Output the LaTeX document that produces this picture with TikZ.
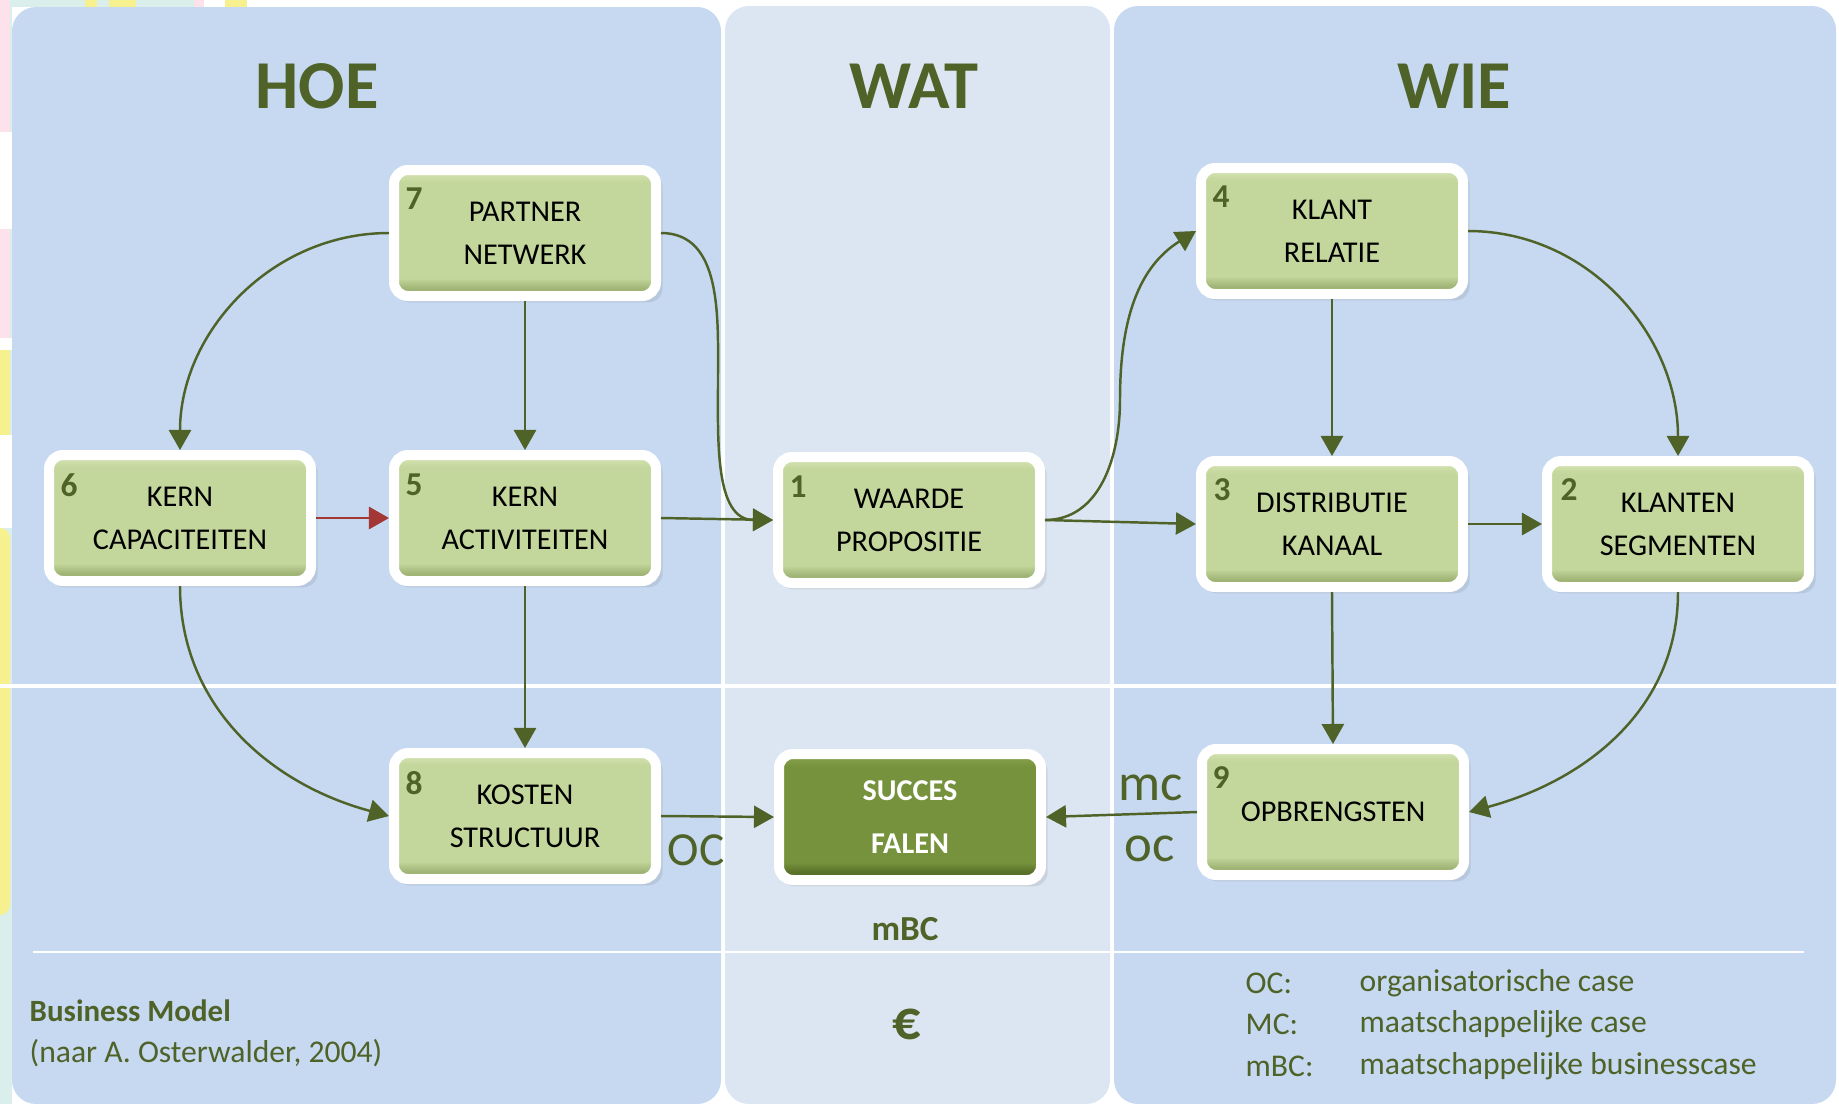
\documentclass[tikz,border=0pt]{standalone}
\usepackage{fontspec}
\setmainfont{Carlito}
\usepackage{tikz}
\usetikzlibrary{arrows.meta,shadows}
\usepackage{xcolor}
\definecolor{bmolive}{RGB}{79,98,40}
\definecolor{bmpanel}{RGB}{198,217,241}
\definecolor{bmpanelmid}{RGB}{220,230,242}
\definecolor{bmgreen}{RGB}{195,214,155}
\definecolor{bmgreenlight}{RGB}{212,227,178}
\definecolor{bmgreendark}{RGB}{160,180,118}
\definecolor{bmsucces}{RGB}{118,146,60}
\definecolor{bmsucceslight}{RGB}{134,162,76}
\definecolor{bmsuccesdark}{RGB}{88,112,40}
\definecolor{bmred}{RGB}{163,55,53}
\definecolor{bmteal}{RGB}{218,238,236}
\definecolor{bmpink}{RGB}{253,226,236}
\definecolor{bmyellow}{RGB}{246,241,142}
\pgfdeclareverticalshading{bmbevel}{100bp}{color(0bp)=(bmgreendark); color(25bp)=(bmgreendark); color(28bp)=(bmgreendark); color(32bp)=(bmgreen); color(70bp)=(bmgreen); color(74bp)=(bmgreenlight); color(100bp)=(bmgreenlight)}
\pgfdeclareverticalshading{bmbevelsucces}{100bp}{color(0bp)=(bmsuccesdark); color(25bp)=(bmsuccesdark); color(28bp)=(bmsuccesdark); color(32bp)=(bmsucces); color(70bp)=(bmsucces); color(74bp)=(bmsucceslight); color(100bp)=(bmsucceslight)}
\tikzstyle{block} = [rounded corners=1.4mm, draw=white, line width=1mm, shading=bmbevel, minimum width=26.2mm, minimum height=12.6mm, align=center, inner sep=0pt, font=\fontsize{8.6}{12.2}\selectfont, drop shadow={opacity=0.12, shadow xshift=0.4mm, shadow yshift=-0.5mm, shadow scale=1.02, fill=black!70}]
\tikzstyle{num} = [font=\fontsize{9.5}{11}\selectfont\bfseries, text=bmolive, inner sep=0pt]
\tikzstyle{title} = [font=\fontsize{19.5}{24}\selectfont\bfseries, text=bmolive]
\tikzstyle{caselabel} = [font=\fontsize{13.5}{16}\selectfont, text=bmolive, inner sep=0pt]
\tikzstyle{legend} = [font=\fontsize{9}{11}\selectfont, text=bmolive, inner sep=0pt, anchor=west]
\tikzstyle{link} = [line width=0.7pt,->,>={Triangle[length=5.7pt,width=6.3pt]},color=bmolive]

\begin{document}
\begin{tikzpicture}[x=0.1mm,y=-0.1mm]
\useasboundingbox (0,0) rectangle (1839,1104);

% left edge remnants
\fill[bmteal] (0,0) rectangle (12,1104);
\fill[bmteal] (0,0) rectangle (200,7);
\fill[bmyellow] (85,0) rectangle (97,7);
\fill[bmyellow] (109,0) rectangle (136,7);
\fill[bmpink] (194,0) rectangle (204,7);
\fill[bmyellow] (225,0) rectangle (247,7);
\fill[bmpink] (0,0) rectangle (10,132);
\fill[white] (0,132) rectangle (12,229);
\fill[bmpink] (0,229) rectangle (10,338);
\fill[white] (0,338) rectangle (12,350);
\fill[bmyellow] (0,350) rectangle (10,435);
\fill[white] (0,435) rectangle (12,528);
\fill[bmyellow, rounded corners=1mm] (-20,528) rectangle (10,915);

% Panels
\fill[bmpanel, rounded corners=2.4mm] (12,7) rectangle (721,1104);
\fill[bmpanelmid, rounded corners=2.4mm] (725,6) rectangle (1110,1104);
\fill[bmpanel, rounded corners=2.4mm] (1114,6) rectangle (1836,1104);
\draw[white, line width=0.35mm] (0,686) -- (1839,686);
\draw[white, line width=0.25mm] (33,952) -- (1804,952);

% Titles
\node[title] (hoe) at (317,86) {HOE};
\node[title] (wat) at (914,86) {WAT};
\node[title] (wie) at (1454,86) {WIE};

% Blocks
\node[block] (n7) at (525,233) {PARTNER\\NETWERK};
\node[block] (n6) at (180,518) {KERN\\CAPACITEITEN};
\node[block] (n5) at (525,518) {KERN\\ACTIVITEITEN};
\node[block] (n1) at (909,520) {WAARDE\\PROPOSITIE};
\node[block] (n4) at (1332,231) {KLANT\\RELATIE};
\node[block] (n3) at (1332,524) {DISTRIBUTIE\\KANAAL};
\node[block] (n2) at (1678,524) {KLANTEN\\SEGMENTEN};
\node[block] (n8) at (525,816) {KOSTEN\\STRUCTUUR};
\node[block, shading=bmbevelsucces, text=white, font=\fontsize{8.6}{15}\selectfont\bfseries] (succ) at (910,817) {SUCCES\\FALEN};
\node[block] (n9) at (1333,812) {OPBRENGSTEN};

% Numbers
\node[num] (n7num) at (414,199) {7};
\node[num] (n6num) at (69,485) {6};
\node[num] (n5num) at (414,485) {5};
\node[num] (n1num) at (798,487) {1};
\node[num] (n4num) at (1221,197) {4};
\node[num] (n3num) at (1222,490) {3};
\node[num] (n2num) at (1569,490) {2};
\node[num] (n8num) at (414,783) {8};
\node[num] (n9num) at (1221,778) {9};

% bend points of the two S-curves
\coordinate (bendhoe) at (718,380);
\coordinate (bendwie) at (1120,400);

% Connectors
\draw[link] (n7.west) to[out=180,in=90] (n6.north);
\draw[link] (n7.south) -- (n5.north);
\draw[link] (n7.east) to[out=0,in=90] (bendhoe) to[out=-90,in=180] (n1.west);
\draw[link, color=bmred] (n6.east) -- (n5.west);
\draw[link] (n5.east) -- (n1.west);
\draw[link] (n5.south) -- (n8.north);
\draw[link] (n6.south) to[out=-90,in=165] (n8.west);
\draw[link] (n1.east) to[out=0,in=-90] (bendwie) to[out=90,in=212] (n4.west);
\draw[link] (n1.east) -- (n3.west);
\draw[link] (n4.south) -- (n3.north);
\draw[link] (n4.east) to[out=0,in=90] (n2.north);
\draw[link] (n3.east) -- (n2.west);
\draw[link] (n3.south) -- (n9.north);
\draw[link] (n2.south) to[out=-90,in=15] (n9.east);
\draw[link] (n9.west) -- (succ.east);
\draw[link] (n8.east) -- (succ.west);

% Case labels
\node[caselabel] (oc) at (696,850) {OC};
\node[caselabel, font=\fontsize{15}{18}\selectfont] (mc) at (1151,788) {mc};
\node[caselabel, font=\fontsize{15}{18}\selectfont] (ocw) at (1150,849) {oc};
\node[font=\fontsize{10}{12}\selectfont\bfseries, text=bmolive] (mbc) at (905,929) {mBC};
\node[font=\fontsize{16}{18}\selectfont\bfseries, text=bmolive] (euro) at (907,1024) {€};

% Footer
\node[legend, font=\fontsize{8.8}{11}\selectfont\bfseries] (bm) at (29,1011) {Business Model};
\node[legend] (naar) at (29,1053) {(naar A. Osterwalder, 2004)};
\node[legend] (k1) at (1245,983) {OC:};
\node[legend] (k2) at (1245,1024) {MC:};
\node[legend] (k3) at (1245,1066) {mBC:};
\node[legend] (v1) at (1359,983) {organisatorische case};
\node[legend] (v2) at (1359,1024) {maatschappelijke case};
\node[legend] (v3) at (1359,1066) {maatschappelijke businesscase};
\end{tikzpicture}
\end{document}
